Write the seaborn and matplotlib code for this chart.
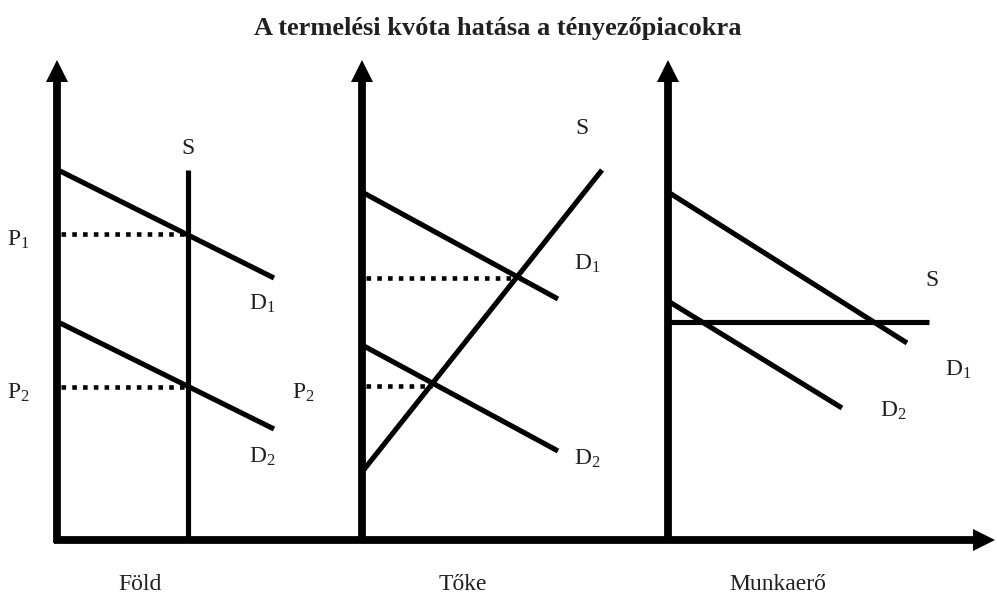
import numpy as np
import pandas as pd
import matplotlib
matplotlib.use("Agg")
import matplotlib.pyplot as plt
import seaborn as sns
from matplotlib.patches import Polygon

# ---- data (diagram coordinates, y grows downward) ----
title = "A termelési kvóta hatása a tényezőpiacokra"
panels = ["Föld", "Tőke", "Munkaerő"]
panel_label_x = [140, 463, 778]

axis_x = [57, 362, 668]          # vertical price axes
axis_top = 60
axis_bottom_y = 540
axis_right = 995

# curve segments: name, x0, y0, x1, y1
seg_names = ["F_D1", "F_D2", "F_S", "T_D1", "T_D2", "T_S", "M_D1", "M_D2", "M_S"]
seg_x0 = [60, 60, 188, 362, 362, 362, 668, 668, 668]
seg_y0 = [171, 323, 170, 192, 345, 472, 192, 301, 322]
seg_x1 = [274, 274, 188, 558, 558, 602, 907, 842, 929]
seg_y1 = [278, 429, 540, 299, 451, 170, 343, 408, 322]

# dotted price guides
dot_x0 = [61, 61, 366, 366]
dot_x1 = [186, 186, 515, 432]
dot_y = [234, 387, 278, 386]

# labels: text, x, y
lab_text = ["P$_1$", "P$_2$", "P$_2$", "S", "D$_1$", "D$_2$",
            "S", "D$_1$", "D$_2$", "S", "D$_1$", "D$_2$"]
lab_x = [18, 18, 303, 188, 262, 262, 582, 587, 587, 932, 958, 893]
lab_y = [240, 393, 393, 149, 304, 457, 128, 264, 459, 281, 370, 411]

# ---- build tables ----
rows = []
for n, a, b, c, d in zip(seg_names, seg_x0, seg_y0, seg_x1, seg_y1):
    rows.append((n, a, b, 0))
    rows.append((n, c, d, 1))
segs = pd.DataFrame(rows, columns=["seg", "x", "y", "order"])

drows = []
for i, (a, c, y) in enumerate(zip(dot_x0, dot_x1, dot_y)):
    drows.append((i, a, y))
    drows.append((i, c, y))
dots = pd.DataFrame(drows, columns=["seg", "x", "y"])

sns.set_theme(style="white")
plt.rcParams["font.family"] = ["Liberation Serif", "DejaVu Serif"]
plt.rcParams["mathtext.fontset"] = "custom"
plt.rcParams["mathtext.rm"] = "Liberation Serif"
plt.rcParams["mathtext.it"] = "Liberation Serif"

fig = plt.figure(figsize=(9.97, 5.96), dpi=100)
ax = fig.add_axes([0, 0, 1, 1])
ax.set_xlim(0, 997)
ax.set_ylim(596, 0)
ax.axis("off")

# curves
sns.lineplot(data=segs, x="x", y="y", units="seg", estimator=None, sort=False,
             color="black", lw=3.7, ax=ax, legend=False)
for l in ax.lines:
    l.set_solid_capstyle("butt")

# dotted guides
sns.lineplot(data=dots, x="x", y="y", units="seg", estimator=None, sort=False,
             color="black", lw=3.3, ax=ax, legend=False)
for l in ax.lines[len(seg_names):]:
    l.set_dashes([1.0, 1.35])
    l.set_dash_capstyle("butt")

# axes with arrows
lw_axis = 5.6
head_len, head_half = 22, 11
for x in axis_x:
    ax.plot([x, x], [axis_bottom_y + 3, axis_top + head_len - 1], color="black",
            lw=lw_axis, solid_capstyle="butt")
    ax.add_patch(Polygon([[x - head_half, axis_top + head_len], [x + head_half, axis_top + head_len],
                          [x, axis_top]], closed=True, color="black", lw=0))
ax.plot([axis_x[0] - 3, axis_right - head_len + 1], [axis_bottom_y, axis_bottom_y],
        color="black", lw=lw_axis, solid_capstyle="butt")
ax.add_patch(Polygon([[axis_right - head_len, axis_bottom_y - head_half],
                      [axis_right - head_len, axis_bottom_y + head_half],
                      [axis_right, axis_bottom_y]], closed=True, color="black", lw=0))

# labels
for t, x, y in zip(lab_text, lab_x, lab_y):
    ax.text(x, y, t, ha="center", va="center", fontsize=17, color="#231f20")
for t, x in zip(panels, panel_label_x):
    ax.text(x, 585, t, ha="center", va="center", fontsize=17, color="#231f20")

ax.text(498, 28, title, ha="center", va="center", fontsize=19, fontweight="bold",
        color="#231f20")

fig.savefig("out.png", dpi=100)
